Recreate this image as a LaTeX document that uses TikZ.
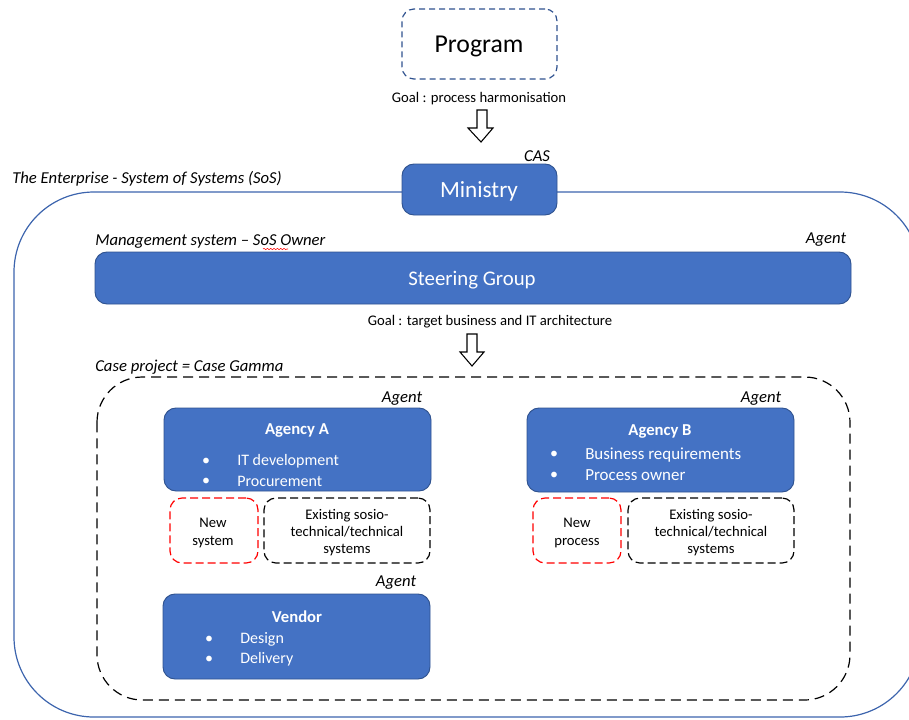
\documentclass[tikz,border=0pt]{standalone}
\usepackage{fontspec}
\setmainfont{Carlito}
\usetikzlibrary{fit,decorations.pathmorphing}
\definecolor{accent}{HTML}{4472C4}
\definecolor{accentdark}{HTML}{2F528F}
\definecolor{outerblue}{HTML}{3C64AD}
\begin{document}
\begin{tikzpicture}[x=0.75pt,y=-0.75pt,
  bluebox/.style={draw=accentdark, line width=0.7pt, fill=accent, rounded corners=9pt, inner sep=0pt},
  progbox/.style={draw=accentdark, line width=0.9pt, dash pattern=on 4.5pt off 3pt, rounded corners=9pt, inner sep=0pt},
  reddash/.style={draw=red, line width=0.9pt, dash pattern=on 6pt off 3pt, rounded corners=9pt, inner sep=0pt},
  blackdash/.style={draw=black, line width=0.9pt, dash pattern=on 6pt off 3pt, rounded corners=9pt, inner sep=0pt},
  casebox/.style={draw=black, line width=0.9pt, dash pattern=on 7.5pt off 4.5pt, rounded corners=34pt},
  outerbox/.style={draw=outerblue, line width=0.9pt, rounded corners=60pt},
  txt/.style={inner sep=0pt, yshift=-1.2pt},
  lbl/.style={txt, font=\fontsize{12.5}{15}\selectfont\itshape},
  goaltxt/.style={txt, font=\fontsize{11}{13}\selectfont},
  small/.style={txt, font=\fontsize{11}{13}\selectfont, align=center},
  head/.style={txt, font=\fontsize{12.5}{15}\selectfont\bfseries, text=white},
  item/.style={txt, font=\fontsize{12}{15}\selectfont, text=white, anchor=west},
  itemb/.style={txt, font=\fontsize{12.7}{15}\selectfont, text=white, anchor=west},
  bul/.style={txt, font=\fontsize{12}{15}\selectfont, text=white},
  blockarrow/.style={draw=black, line width=0.8pt, fill=white, line join=miter}
]
\clip (0,0) rectangle (909,719);
% outer enterprise box
\draw[outerbox] (14,192) rectangle (920,717);
\node[lbl, anchor=west] (entlbl) at (12,177) {The Enterprise - System of Systems (SoS)};

% Program
\node[progbox, fit={(402,9) (557,79)}] (prog) {};
\node[txt, font=\fontsize{19.3}{22}\selectfont] (progt) at (479,45) {Program};
\node[goaltxt] (goal1) at (479,97) {Goal : process harmonisation};
\draw[blockarrow] (477,110) -- (487,110) -- (487,128) -- (493,128) -- (481,142) -- (468,128) -- (477,128) -- cycle;

% Ministry
\node[bluebox, fit={(402,164) (557,215)}] (min) {};
\node[txt, font=\fontsize{17.4}{20}\selectfont, text=white] (mint) at (479,190) {Ministry};
\node[lbl] (cas) at (537,155) {CAS};

% Steering group
\node[lbl, anchor=west] (mgmt) at (95,240) {Management system -- SoS Owner};
\draw[red, line width=0.4pt, decorate, decoration={snake, amplitude=0.5pt, segment length=2.5pt}] (263,249) -- (288,249);
\node[lbl] (agent0) at (826,238) {Agent};
\node[bluebox, fit={(95,252) (851,304)}] (steer) {};
\node[txt, font=\fontsize{15.6}{18}\selectfont, text=white] (steert) at (472,279) {Steering Group};
\node[goaltxt] (goal2) at (490,320) {Goal : target business and IT architecture};
\draw[blockarrow] (467,334) -- (477,334) -- (477,352) -- (484,352) -- (472,366) -- (460,352) -- (467,352) -- cycle;

% Case project
\node[lbl, anchor=west] (caselbl) at (95,366) {Case project = Case Gamma};
\draw[casebox] (97,377) rectangle (850,700);

% Agency A
\node[lbl] (agentA) at (402,397) {Agent};
\node[bluebox, fit={(164,408) (431,491)}] (agA) {};
\node[head] (agAh) at (297,429) {Agency A};
\node[bul] (bA1) at (206,460) {•};
\node[item] (tA1) at (237,460) {IT development};
\node[bul] (bA2) at (206,480) {•};
\node[item] (tA2) at (237,480) {Procurement};
\node[reddash, fit={(170,498) (258,563)}] (newsys) {};
\node[small] (newsyst) at (213,531.5) {New\\system};
\node[blackdash, fit={(264,498) (430,563)}] (exA) {};
\node[small] (exAt) at (347,531) {Existing sosio-\\technical/technical\\systems};

% Agency B
\node[lbl] (agentB) at (761,397) {Agent};
\node[bluebox, fit={(527,408) (794,492)}] (agB) {};
\node[head] (agBh) at (660,430) {Agency B};
\node[bul] (bB1) at (554,453) {•};
\node[itemb] (tB1) at (585,453) {Business requirements};
\node[bul] (bB2) at (554,474) {•};
\node[itemb] (tB2) at (585,474) {Process owner};
\node[reddash, fit={(533,498) (621,563)}] (newproc) {};
\node[small] (newproct) at (577,531.5) {New\\process};
\node[blackdash, fit={(628,498) (794,563)}] (exB) {};
\node[small] (exBt) at (711,531) {Existing sosio-\\technical/technical\\systems};

% Vendor
\node[lbl] (agentV) at (396,581) {Agent};
\node[bluebox, fit={(163,594) (430,679)}] (vend) {};
\node[head] (vendh) at (297,615) {Vendor};
\node[bul] (bV1) at (209,638) {•};
\node[item] (tV1) at (240,638) {Design};
\node[bul] (bV2) at (209,658) {•};
\node[item] (tV2) at (240,658) {Delivery};
\end{tikzpicture}
\end{document}
